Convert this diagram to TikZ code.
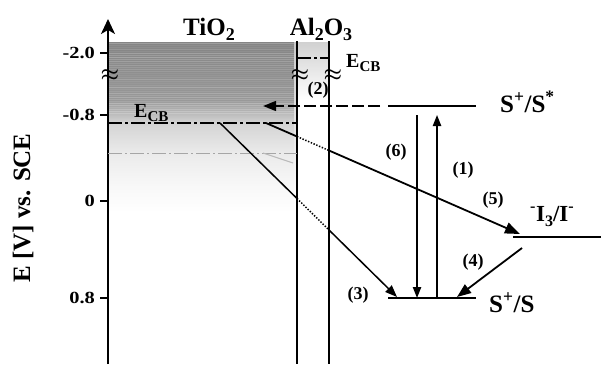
\documentclass[tikz,border=0pt]{standalone}
\usepackage{fontspec}
\setmainfont{Liberation Serif}
\usepackage{graphicx}
\usetikzlibrary{arrows.meta}
\pgfdeclareverticalshading{tioshade}{100bp}{color(0bp)=(white); color(25bp)=(white); color(32.9bp)=(black!3); color(42.4bp)=(black!8); color(51.2bp)=(black!17); color(54.4bp)=(black!28); color(57.9bp)=(black!40); color(75bp)=(black!48); color(100bp)=(black!48)}
\newcommand{\fs}[1]{\fontsize{#1}{#1}\selectfont}
\newcommand{\lo}[3]{\raisebox{-#2pt}{\fs{#1}#3}}
\begin{document}
\begin{tikzpicture}[x=1pt,y=-1pt,font=\bfseries,
  thk/.style={line width=1.8pt},
  lvl/.style={line width=2.1pt},
  ecb/.style={line width=2.1pt,dash pattern=on 14pt off 3pt on 3pt off 3pt},
  dots/.style={line width=1.5pt,dash pattern=on 1.4pt off 1.6pt},
  tip/.style={-{Triangle[length=#1,width=0.75*#1]}},
  big/.style={font=\bfseries\fs{25}},
  mid/.style={font=\bfseries\fs{20}},
  num/.style={font=\bfseries\fs{18}},
  brk/.style={font=\boldmath\fs{21}}]
\useasboundingbox (0,0) rectangle (601,364);
% shading
\shade[shading=tioshade] (108,42) rectangle (294,212);
\pgfmathsetseed{7}
\foreach \yy in {43,45,...,113}{
  \pgfmathsetmacro\op{0.04+0.2*rnd}
  \fill[white,opacity=\op] (108,\yy) rectangle (294,\yy+1);
}
\shade[top color=black!22,bottom color=white] (294,42) rectangle (297,200);
\shade[top color=black!18,bottom color=white] (297,42) rectangle (329,100);
% axis
\coordinate (axb) at (108,364);
\coordinate (axt) at (108,19);
\draw[thk,-{Stealth[length=15pt,width=14pt,inset=4pt]}] (axb) -- (axt);
\foreach \yy/\lab [count=\i] in {53/-2.0,115/-0.8,201/0,298/0.8}{
  \draw[thk] (100,\yy) -- (108,\yy);
  \node[num,font=\bfseries\fs{17},anchor=east,inner sep=0pt] (tick\i) at (95,\yy) {\scalebox{1.2}[1]{\lab}};
}
\node[big,rotate=90] (ylab) at (23,208) {E [V] vs. SCE};
% walls
\coordinate (w1t) at (297,41); \coordinate (w1b) at (297,364);
\coordinate (w2t) at (329,41); \coordinate (w2b) at (329,364);
\draw[thk] (w1t) -- (w1b);
\draw[thk] (w2t) -- (w2b);
\node[big,anchor=base,inner sep=0pt] (tio) at (209,35) {TiO\lo{18}{5}{2}};
\node[big,anchor=base,inner sep=0pt] (al) at (321,35) {Al\lo{18}{5}{2}O\lo{18}{5}{3}};
% breaks
\node[brk] (b0) at (110,75) {$\approx$};
\node[brk] (b1) at (300,75) {$\approx$};
\node[brk] (b2) at (333,75) {$\approx$};
% conduction bands
\coordinate (cb1) at (108,123); \coordinate (cb2) at (297,123);
\draw[ecb] (cb1) -- (cb2);
\draw[gray!70,line width=0.6pt,dash pattern=on 14pt off 3pt on 2pt off 3pt] (108,153) -- (297,153);
\draw[gray!55,line width=1pt] (263,153) -- (293,163);
\draw[ecb] (297,58) -- (329,58);
\node[mid,anchor=base west,inner sep=0pt] (ecbt) at (134,117) {E\lo{15}{4}{CB}};
\node[mid,anchor=base west,inner sep=0pt] (ecba) at (346,67) {E\lo{15}{4}{CB}};
% levels
\coordinate (ss1) at (388,106); \coordinate (ss2) at (476,106);
\draw[lvl] (ss1) -- (ss2);
\coordinate (inj1) at (380,106); \coordinate (inj2) at (263,106);
\draw[lvl,dash pattern=on 12pt off 4pt,tip=13pt] (inj1) -- (inj2);
\node[num] (l2) at (318,90) {(2)};
\node[big,anchor=base west,inner sep=0pt] (lss) at (500,112) {S\textsuperscript{+}/S\textsuperscript{*}};
\coordinate (g1) at (388,298); \coordinate (g2) at (476,298);
\draw[lvl] (g1) -- (g2);
\node[big,anchor=base west,inner sep=0pt] (lg) at (489,312) {S\textsuperscript{+}/S};
\coordinate (i1) at (513,237); \coordinate (i2) at (601,237);
\draw[line width=2.2pt] (i1) -- (i2);
\node[font=\bfseries\fs{23},anchor=base west,inner sep=0pt] (li) at (530,221) {\textsuperscript{-}I\lo{16}{5}{3}/I\textsuperscript{-}};
% (6) and (1)
\coordinate (r6a) at (417,115); \coordinate (r6b) at (417,298);
\draw[line width=1.5pt,tip=11pt] (r6a) -- (r6b);
\coordinate (r1a) at (437,298); \coordinate (r1b) at (437,115);
\draw[line width=1.5pt,tip=11pt] (r1a) -- (r1b);
\node[num] (l6) at (396,152) {(6)};
\node[num] (l1) at (463,170) {(1)};
% (5)
\coordinate (a5) at (266,123); \coordinate (b5) at (297,136.5);
\coordinate (c5) at (329,150.5); \coordinate (d5) at (520,234);
\draw[thk] (a5) -- (b5);
\draw[dots] (b5) -- (c5);
\draw[thk,tip=15pt] (c5) -- (d5);
\node[num] (l5) at (493,200) {(5)};
% (3)
\coordinate (a3) at (220,123); \coordinate (b3) at (297,198.5);
\coordinate (c3) at (329,230); \coordinate (d3) at (397,297);
\draw[line width=1.5pt] (a3) -- (b3);
\draw[dots] (b3) -- (c3);
\draw[line width=1.5pt,tip=12pt] (c3) -- (d3);
\node[num] (l3) at (358,295) {(3)};
% (4)
\coordinate (a4) at (522,248); \coordinate (d4) at (457,297);
\draw[thk,tip=14pt] (a4) -- (d4);
\node[num] (l4) at (473,262) {(4)};
\end{tikzpicture}
\end{document}
